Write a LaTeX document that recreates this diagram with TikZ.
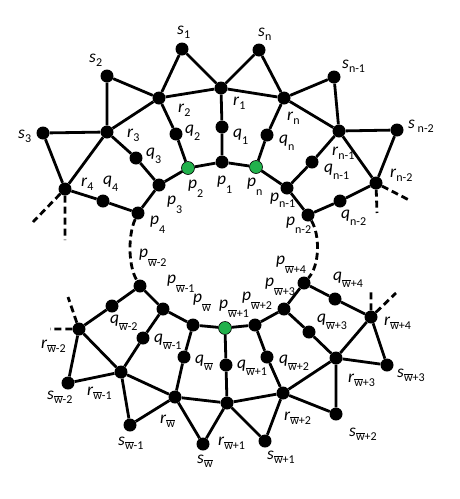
\documentclass[tikz,border=0pt]{standalone}
\usepackage{fontspec}
\setmainfont{Carlito}
\newcommand\subf{\fontsize{12}{12}\selectfont}
\newcommand\lb[3][5pt]{\textit{#2}\raisebox{-#1}{\subf #3}}
\newcommand\wb{$\overline{\mbox{w}}$}
\definecolor{pgreen}{RGB}{34,177,76}
\begin{document}
\begin{tikzpicture}[x=1pt,y=-1pt,
  dot/.style={circle,fill=black,inner sep=0pt,minimum size=13pt},
  gdot/.style={circle,fill=pgreen,draw=black,line width=0.6pt,inner sep=0pt,minimum size=13pt},
  edge/.style={line width=2.8pt},
  dsh/.style={line width=2.8pt,dash pattern=on 7pt off 4pt},
  lab/.style={anchor=base west,inner sep=0pt,font=\fontsize{17.5}{17.5}\selectfont}]
\useasboundingbox (0,0) rectangle (459,499);
% top nodes
\node[dot] (s1) at (182,49) {};
\node[dot] (sn) at (259,50) {};
\node[dot] (s2) at (107,76) {};
\node[dot] (sn1) at (334,77) {};
\node[dot] (r2) at (159,98) {};
\node[dot] (r1) at (221,88) {};
\node[dot] (rn) at (284,98) {};
\node[dot] (s3) at (43,133) {};
\node[dot] (r3) at (107,132) {};
\node[dot] (rn1) at (339,131) {};
\node[dot] (sn2) at (397,130) {};
\node[dot] (q2) at (176,134) {};
\node[dot] (q1) at (222,127) {};
\node[dot] (qn) at (267,135) {};
\node[dot] (q3) at (136,158) {};
\node[dot] (qn1) at (312,162) {};
\node[gdot] (p2) at (188,168) {};
\node[dot] (p1) at (222,162) {};
\node[gdot] (pn) at (256,167) {};
\node[dot] (r4) at (65,189) {};
\node[dot] (p3) at (159,185) {};
\node[dot] (pn1) at (287,188) {};
\node[dot] (rn2) at (376,183) {};
\node[dot] (q4) at (103,201) {};
\node[dot] (qn2) at (340,201) {};
\node[dot] (p4) at (138,213) {};
\node[dot] (pn2) at (308,215) {};
% bottom nodes
\node[dot] (pwm2) at (140,286) {};
\node[dot] (pwm1) at (163,309) {};
\node[dot] (pw) at (193,325) {};
\node[gdot] (pwp1) at (225,328) {};
\node[dot] (pwp2) at (255,325) {};
\node[dot] (pwp3) at (284,309) {};
\node[dot] (pwp4) at (304,283) {};
\node[dot] (qwm2) at (112,306) {};
\node[dot] (qwm1) at (143,338) {};
\node[dot] (qw) at (184,357) {};
\node[dot] (qwp1) at (226,365) {};
\node[dot] (qwp2) at (267,357) {};
\node[dot] (qwp3) at (309,332) {};
\node[dot] (qwp4) at (335,299) {};
\node[dot] (rwm2) at (79,329) {};
\node[dot] (rwm1) at (121,372) {};
\node[dot] (rw) at (175,397) {};
\node[dot] (rwp1) at (227,403) {};
\node[dot] (rwp2) at (283,393) {};
\node[dot] (rwp3) at (336,358) {};
\node[dot] (rwp4) at (371,317) {};
\node[dot] (swm2) at (68,383) {};
\node[dot] (swm1) at (130,425) {};
\node[dot] (sw) at (203,444) {};
\node[dot] (swp1) at (265,441) {};
\node[dot] (swp2) at (336,414) {};
\node[dot] (swp3) at (387,365) {};
% stub ends
\coordinate (a1) at (65,240);
\coordinate (a2) at (33,222);
\coordinate (b1) at (377,213);
\coordinate (b2) at (409,200);
\coordinate (c1) at (50,329);
\coordinate (c2) at (68,297);
\coordinate (d1) at (371,290);
\coordinate (d2) at (396,293);
% top edges
\draw[edge] (s1)--(r2) (s1)--(r1) (sn)--(r1) (sn)--(rn) (r2)--(r1) (r1)--(rn)
  (s2)--(r3) (s2)--(r2) (r3)--(r2) (sn1)--(rn) (sn1)--(rn1) (rn)--(rn1)
  (s3)--(r3) (s3)--(r4) (r3)--(r4) (sn2)--(rn1) (sn2)--(rn2) (rn1)--(rn2)
  (r1)--(q1) (q1)--(p1) (r2)--(q2) (q2)--(p2) (rn)--(qn) (qn)--(pn)
  (r3)--(q3) (q3)--(p3) (rn1)--(qn1) (qn1)--(pn1) (r4)--(q4) (q4)--(p4)
  (rn2)--(qn2) (qn2)--(pn2)
  (p4)--(p3) (p3)--(p2) (p2)--(p1) (p1)--(pn) (pn)--(pn1) (pn1)--(pn2);
% bottom edges
\draw[edge] (pwm2)--(pwm1) (pwm1)--(pw) (pw)--(pwp1) (pwp1)--(pwp2) (pwp2)--(pwp3) (pwp3)--(pwp4)
  (pwm2)--(qwm2) (qwm2)--(rwm2) (pwm1)--(qwm1) (qwm1)--(rwm1) (pw)--(qw) (qw)--(rw)
  (pwp1)--(qwp1) (qwp1)--(rwp1) (pwp2)--(qwp2) (qwp2)--(rwp2) (pwp3)--(qwp3) (qwp3)--(rwp3)
  (pwp4)--(qwp4) (qwp4)--(rwp4)
  (rwm2)--(rwm1) (rwm1)--(rw) (rw)--(rwp1) (rwp1)--(rwp2) (rwp2)--(rwp3) (rwp3)--(rwp4)
  (rwm2)--(swm2) (swm2)--(rwm1) (rwm1)--(swm1) (swm1)--(rw) (rw)--(sw) (sw)--(rwp1)
  (rwp1)--(swp1) (swp1)--(rwp2) (rwp2)--(swp2) (swp2)--(rwp3) (rwp3)--(swp3) (swp3)--(rwp4);
% dashed
\draw[dsh] (r4)--(a1) (r4)--(a2) (rn2)--(b1) (rn2)--(b2)
  (rwm2)--(c1) (rwm2)--(c2) (rwp4)--(d1) (rwp4)--(d2);
\draw[dsh] (p4) .. controls (128,235) and (128,265) .. (pwm2);
\draw[dsh] (pn2) .. controls (320,235) and (320,265) .. (pwp4);
% labels top
\node[lab] (ls1) at (177,34) {\lb[4pt]{s}{1}};
\node[lab] (lsn) at (258,36) {\lb[4pt]{s}{n}};
\node[lab] (ls2) at (89,62) {\lb[4pt]{s}{2}};
\node[lab] (lsn1) at (342,68) {\lb[4pt]{s}{n-1}};
\node[lab] (ls3) at (18,138) {\lb[4pt]{s}{3}};
\node[lab] (lsn2) at (408,128) {\lb[4pt]{s}{~n-2}};
\node[lab] (lr1) at (233,105) {\lb[4pt]{r}{1}};
\node[lab] (lr2) at (178,112) {\lb[4pt]{r}{2}};
\node[lab] (lrn) at (287,120) {\lb[4pt]{r}{n}};
\node[lab] (lr3) at (127,137) {\lb[4pt]{r}{3}};
\node[lab] (lrn1) at (332,155) {\lb[4pt]{r}{n-1}};
\node[lab] (lr4) at (81,186) {\lb[4pt]{r}{4}};
\node[lab] (lrn2) at (390,177) {\lb[4pt]{r}{n-2}};
\node[lab] (lq1) at (233,137) {\lb[7pt]{q}{1}};
\node[lab] (lq2) at (185,133) {\lb[7pt]{q}{2}};
\node[lab] (lqn) at (279,143) {\lb[7pt]{q}{n}};
\node[lab] (lq3) at (146,156) {\lb[7pt]{q}{3}};
\node[lab] (lqn1) at (324,172) {\lb[7pt]{q}{n-1}};
\node[lab] (lq4) at (103,184) {\lb[7pt]{q}{4}};
\node[lab] (lqn2) at (341,218) {\lb[7pt]{q}{n-2}};
\node[lab] (lp1) at (217,184) {\lb[9pt]{p}{1}};
\node[lab] (lp2) at (188,188) {\lb[9pt]{p}{2}};
\node[lab] (lpn) at (247,186) {\lb[9pt]{p}{n}};
\node[lab] (lp3) at (167,204) {\lb[9pt]{p}{3}};
\node[lab] (lpn1) at (270,201) {\lb[6pt]{p}{n-1}};
\node[lab] (lp4) at (150,224) {\lb[9pt]{p}{4}};
\node[lab] (lpn2) at (286,225) {\lb[8pt]{p}{n-2}};
% labels bottom
\node[lab] (lpwm2) at (139,257) {\lb[9pt]{p}{\wb-2}};
\node[lab] (lpwm1) at (167,283) {\lb[9pt]{p}{\wb-1}};
\node[lab] (lpw) at (193,302) {\lb[9pt]{p}{\wb}};
\node[lab] (lpwp1) at (219,308) {\lb[9pt]{p}{\wb+1}};
\node[lab] (lpwp2) at (242,300) {\lb[9pt]{p}{\wb+2}};
\node[lab] (lpwp3) at (265,286) {\lb[9pt]{p}{\wb+3}};
\node[lab] (lpwp4) at (276,264) {\lb[9pt]{p}{\wb+4}};
\node[lab] (lqwm2) at (110,323) {\lb[7pt]{q}{\wb-2}};
\node[lab] (lqwm1) at (154,342) {\lb[7pt]{q}{\wb-1}};
\node[lab] (lqw) at (195,363) {\lb[7pt]{q}{\wb}};
\node[lab] (lqwp1) at (237,368) {\lb[7pt]{q}{\wb+1}};
\node[lab] (lqwp2) at (279,363) {\lb[7pt]{q}{\wb+2}};
\node[lab] (lqwp3) at (317,322) {\lb[7pt]{q}{\wb+3}};
\node[lab] (lqwp4) at (333,280) {\lb[7pt]{q}{\wb+4}};
\node[lab] (lrwm2) at (41,348) {\lb[4pt]{r}{\wb-2}};
\node[lab] (lrwm1) at (87,395) {\lb[4pt]{r}{\wb-1}};
\node[lab] (lrw) at (160,423) {\lb[4pt]{r}{\wb}};
\node[lab] (lrwp1) at (218,445) {\lb[4pt]{r}{\wb+1}};
\node[lab] (lrwp2) at (284,420) {\lb[4pt]{r}{\wb+2}};
\node[lab] (lrwp3) at (348,382) {\lb[4pt]{r}{\wb+3}};
\node[lab] (lrwp4) at (384,325) {\lb[4pt]{r}{\wb+4}};
\node[lab] (lswm2) at (47,399) {\lb[4pt]{s}{\wb-2}};
\node[lab] (lswm1) at (118,445) {\lb[4pt]{s}{\wb-1}};
\node[lab] (lsw) at (197,463) {\lb[4pt]{s}{\wb}};
\node[lab] (lswp1) at (267,459) {\lb[4pt]{s}{\wb+1}};
\node[lab] (lswp2) at (349,436) {\lb[4pt]{s}{\wb+2}};
\node[lab] (lswp3) at (397,377) {\lb[4pt]{s}{\wb+3}};
\end{tikzpicture}
\end{document}
